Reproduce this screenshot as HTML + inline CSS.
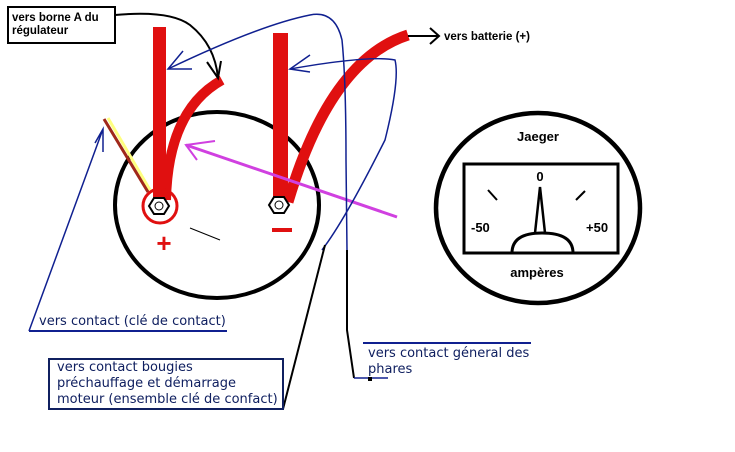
<!DOCTYPE html>
<html><head><meta charset="utf-8"><style>
html,body{margin:0;padding:0;background:#fff;}
svg{display:block;}
text{font-family:"Liberation Sans",sans-serif;font-weight:bold;}
text.b{font-family:"DejaVu Sans",sans-serif;font-weight:normal;}
</style></head><body>
<svg width="735" height="452" viewBox="0 0 735 452" xmlns="http://www.w3.org/2000/svg">
<rect width="735" height="452" fill="#fff"/>
<ellipse cx="217" cy="205" rx="102" ry="93" fill="none" stroke="#000" stroke-width="4"/>
<ellipse cx="538" cy="208" rx="102" ry="95" fill="none" stroke="#000" stroke-width="4.5"/>
<rect x="464" y="164" width="154" height="89" fill="none" stroke="#000" stroke-width="3"/>
<path d="M512 253 Q512 233 542 233 Q573 233 573 253" fill="none" stroke="#000" stroke-width="3"/>
<path d="M535 233 L540 187 L545 233" fill="none" stroke="#000" stroke-width="2.5"/>
<line x1="488" y1="190" x2="497" y2="200" stroke="#000" stroke-width="2"/>
<line x1="576" y1="200" x2="585" y2="191" stroke="#000" stroke-width="2"/>
<text x="538" y="141" font-size="13" text-anchor="middle">Jaeger</text>
<text x="540" y="181" font-size="13" text-anchor="middle">0</text>
<text x="471" y="232" font-size="13">-50</text>
<text x="586" y="232" font-size="13">+50</text>
<text x="537" y="277" font-size="13" text-anchor="middle">ampères</text>
<line x1="108" y1="118" x2="150" y2="190" stroke="#ffff80" stroke-width="3"/>
<line x1="104" y1="119" x2="148" y2="192" stroke="#a0281a" stroke-width="3"/>
<rect x="153" y="27" width="13" height="175" fill="#e01010"/>
<rect x="273" y="33" width="15" height="168" fill="#e01010"/>
<path d="M166 200 Q168 110 222 80" fill="none" stroke="#e01010" stroke-width="10"/>
<path d="M288 202 Q330 60 408 35" fill="none" stroke="#e01010" stroke-width="11"/>
<circle cx="160" cy="206" r="17" fill="none" stroke="#e01010" stroke-width="3"/>
<polygon points="149,206 154,198 164,198 169,206 164,214 154,214" fill="#fff" stroke="#000" stroke-width="2"/>
<circle cx="159" cy="206" r="4" fill="none" stroke="#000" stroke-width="1"/>
<polygon points="269,205 274,197 284,197 289,205 284,213 274,213" fill="#fff" stroke="#000" stroke-width="2"/>
<circle cx="279" cy="205" r="4" fill="none" stroke="#000" stroke-width="1"/>
<text x="164" y="252" font-size="26" fill="#e01010" text-anchor="middle">+</text>
<line x1="272" y1="230" x2="292" y2="230" stroke="#e01010" stroke-width="4"/>
<line x1="190" y1="228" x2="220" y2="240" stroke="#000" stroke-width="1"/>
<line x1="397" y1="217" x2="186" y2="145" stroke="#d040e0" stroke-width="3"/>
<path d="M215 141 L186 145 L197 160" fill="none" stroke="#d040e0" stroke-width="2"/>
<rect x="8" y="7" width="107" height="36" fill="#fff" stroke="#000" stroke-width="2"/>
<text x="12" y="21" font-size="11.5">vers borne A du</text>
<text x="12" y="34" font-size="11.5">régulateur</text>
<path d="M115 15 Q170 10 190 25 Q215 45 218 78" fill="none" stroke="#000" stroke-width="2"/>
<path d="M207 62 L218 78 L221 61" fill="none" stroke="#000" stroke-width="2"/>
<line x1="408" y1="36" x2="438" y2="36" stroke="#000" stroke-width="2"/>
<path d="M430 28 L439 36 L430 44" fill="none" stroke="#000" stroke-width="2"/>
<text x="444" y="40" font-size="11.5">vers batterie (+)</text>
<g fill="none" stroke="#102090" stroke-width="1.5">
<path d="M168 69 Q260 25 310 15 Q335 10 342 40 Q346 80 346 160 L347 250"/>
<path d="M183 51 L168 69 L192 69"/>
<path d="M290 69 Q370 55 395 60 Q400 80 385 140 Q345 220 322 250"/>
<path d="M310 55 L290 69 L310 72"/>
<path d="M29 331 L103 129 M95 143 L103 129 L103 152"/>
<line x1="29" y1="331" x2="227" y2="331" stroke-width="2"/>
<line x1="363" y1="343" x2="531" y2="343" stroke-width="2"/>
</g>
<path d="M283 409 L325 245" stroke="#000" stroke-width="2" fill="none"/>
<path d="M347 250 L347 330 L354 378" stroke="#000" stroke-width="2" fill="none"/>
<text class="b" x="39" y="325" font-size="13" fill="#102060">vers contact (clé de contact)</text>
<rect x="49" y="359" width="234" height="50" fill="#fff" stroke="#102060" stroke-width="2"/>
<text class="b" x="57" y="371" font-size="13" fill="#102060">vers contact bougies</text>
<text class="b" x="57" y="387" font-size="13" fill="#102060">préchauffage et démarrage</text>
<text class="b" x="57" y="403" font-size="13" fill="#102060">moteur (ensemble clé de confact)</text>
<text class="b" x="368" y="357" font-size="13" fill="#102060">vers contact géneral des</text>
<text class="b" x="368" y="373" font-size="13" fill="#102060">phares</text>
<line x1="354" y1="378" x2="388" y2="378" stroke="#102090" stroke-width="1.5"/>
<rect x="368" y="377" width="4" height="4" fill="#000"/>
</svg>
</body></html>
